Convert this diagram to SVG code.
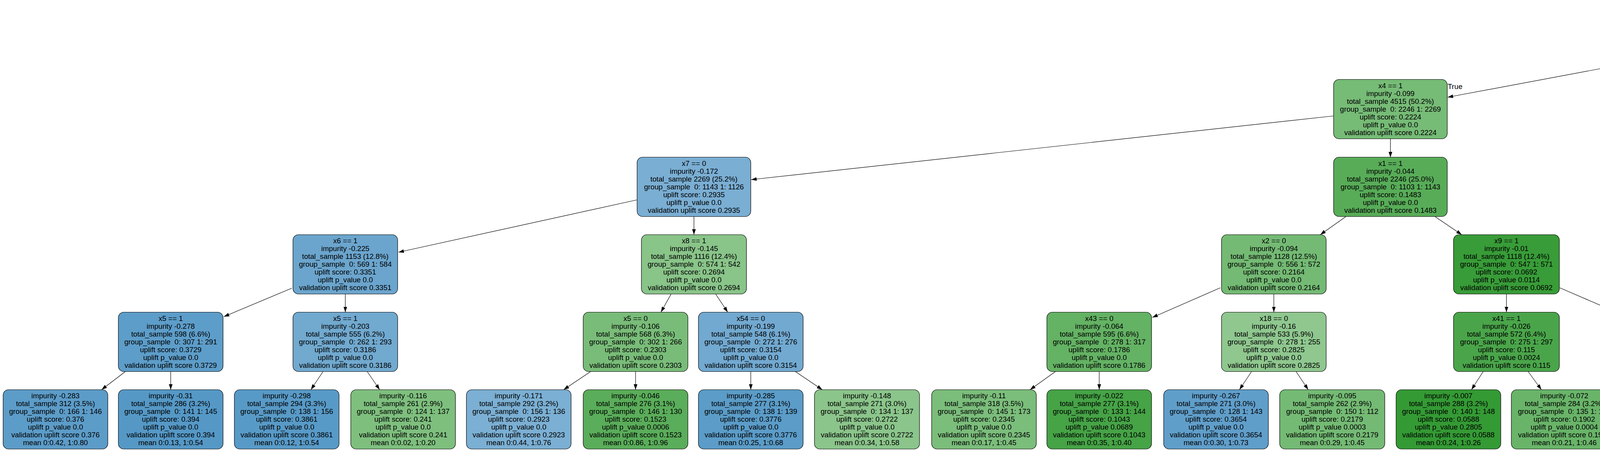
<svg xmlns="http://www.w3.org/2000/svg" width="7125" height="1155" viewBox="0 0 7125 1155">
<defs>
<style>
.node rect{stroke:#000;stroke-width:1.2}
text{font-family:"Liberation Sans",Arial,Helvetica,sans-serif;font-size:18.67px;fill:#000;text-anchor:middle}
.edge{stroke:#000;stroke-width:1.2;fill:none;marker-end:url(#arr)}
</style>
<marker id="arr" markerUnits="userSpaceOnUse" markerWidth="14" markerHeight="10" refX="14" refY="5" orient="auto" viewBox="0 0 14 10"><path d="M0,0.3 L14,5 L0,9.7 z" fill="#000"/></marker>
</defs>
<rect width="7125" height="1155" fill="#fff"/>
<g id="edges">
<line class="edge" x1="4454" y1="109" x2="3706" y2="249"/>
<line class="edge" x1="4749" y1="131" x2="5053" y2="230"/>
<line class="edge" x1="3413" y1="297" x2="1923" y2="460"/>
<line class="edge" x1="3559.5" y1="356" x2="3559.5" y2="403"/>
<line class="edge" x1="5199.5" y1="356" x2="5199.5" y2="403"/>
<line class="edge" x1="5345" y1="308" x2="6094" y2="449"/>
<line class="edge" x1="1630" y1="512" x2="1020" y2="646"/>
<line class="edge" x1="1776.5" y1="555" x2="1776.5" y2="601"/>
<line class="edge" x1="3445" y1="555" x2="3380" y2="601"/>
<line class="edge" x1="3674" y1="555" x2="3742" y2="601"/>
<line class="edge" x1="5143" y1="555" x2="5112" y2="601"/>
<line class="edge" x1="5258" y1="555" x2="5291" y2="601"/>
<line class="edge" x1="6240.5" y1="555" x2="6240.5" y2="601"/>
<line class="edge" x1="6389" y1="543" x2="6551" y2="615"/>
<line class="edge" x1="747" y1="738" x2="573" y2="811"/>
<line class="edge" x1="884" y1="753" x2="884" y2="799.5"/>
<line class="edge" x1="1718" y1="753" x2="1692" y2="799.5"/>
<line class="edge" x1="1832" y1="753" x2="1863" y2="799.5"/>
<line class="edge" x1="3124" y1="737" x2="2950" y2="813"/>
<line class="edge" x1="3261" y1="753" x2="3261" y2="799.5"/>
<line class="edge" x1="3856.5" y1="753" x2="3856.5" y2="799.5"/>
<line class="edge" x1="3993" y1="737" x2="4169" y2="813"/>
<line class="edge" x1="5289" y1="753" x2="5261" y2="799.5"/>
<line class="edge" x1="5406" y1="753" x2="5437" y2="799.5"/>
<line class="edge" x1="6182" y1="753" x2="6153" y2="799.5"/>
<line class="edge" x1="6296" y1="753" x2="6330" y2="799.5"/>
<line class="edge" x1="6685" y1="753" x2="6685" y2="799.5"/>
<line class="edge" x1="6799" y1="753" x2="6865" y2="799.5"/>
<line class="edge" x1="321" y1="951.5" x2="260" y2="998"/>
<line class="edge" x1="437" y1="951.5" x2="437" y2="998"/>
<line class="edge" x1="827" y1="951.5" x2="796" y2="998"/>
<line class="edge" x1="940" y1="951.5" x2="972" y2="998"/>
<line class="edge" x1="1512" y1="951.5" x2="1443" y2="998"/>
<line class="edge" x1="1627" y1="951.5" x2="1627" y2="998"/>
<line class="edge" x1="1922" y1="951.5" x2="1922" y2="998"/>
<line class="edge" x1="2036" y1="951.5" x2="2105" y2="998"/>
<line class="edge" x1="2702" y1="951.5" x2="2637" y2="998"/>
<line class="edge" x1="2814" y1="951.5" x2="2814" y2="998"/>
<line class="edge" x1="3204" y1="951.5" x2="3173" y2="998"/>
<line class="edge" x1="3318" y1="951.5" x2="3349" y2="998"/>
<line class="edge" x1="3797" y1="951.5" x2="3767" y2="998"/>
<line class="edge" x1="3912" y1="951.5" x2="3946" y2="998"/>
<line class="edge" x1="4305" y1="951.5" x2="4305" y2="998"/>
<line class="edge" x1="4420" y1="951.5" x2="4489" y2="998"/>
<line class="edge" x1="5088" y1="951.5" x2="5019" y2="998"/>
<line class="edge" x1="5199.5" y1="951.5" x2="5199.5" y2="998"/>
<line class="edge" x1="5497" y1="951.5" x2="5497" y2="998"/>
<line class="edge" x1="5613" y1="951.5" x2="5677" y2="998"/>
<line class="edge" x1="6091" y1="951.5" x2="6091" y2="998"/>
<line class="edge" x1="6205" y1="951.5" x2="6271" y2="998"/>
<line class="edge" x1="6685" y1="951.5" x2="6685" y2="998"/>
<line class="edge" x1="6799" y1="951.5" x2="6868" y2="998"/>
<text x="3725" y="228">True</text>
<text x="5036" y="205">False</text>
</g>
<g id="n0" class="node"><rect x="4453" y="4.5" width="296" height="152" rx="14" fill="#7cafd3"/><text x="4601" y="26.5"><tspan x="4601">x3 == 0</tspan><tspan x="4601" dy="20">impurity -0.167</tspan><tspan x="4601" dy="20">total_sample 9000 (100.0%)</tspan><tspan x="4601" dy="20">group_sample&#160; 0: 4510 1: 4490</tspan><tspan x="4601" dy="20">uplift score: 0.2892</tspan><tspan x="4601" dy="20">uplift p_value 0.0</tspan><tspan x="4601" dy="20">validation uplift score 0.2892</tspan></text></g>
<g id="n1" class="node"><rect x="3414" y="203.5" width="291" height="152" rx="14" fill="#76bb76"/><text x="3559.5" y="225.5"><tspan x="3559.5">x4 == 1</tspan><tspan x="3559.5" dy="20">impurity -0.099</tspan><tspan x="3559.5" dy="20">total_sample 4515 (50.2%)</tspan><tspan x="3559.5" dy="20">group_sample&#160; 0: 2246 1: 2269</tspan><tspan x="3559.5" dy="20">uplift score: 0.2224</tspan><tspan x="3559.5" dy="20">uplift p_value 0.0</tspan><tspan x="3559.5" dy="20">validation uplift score 0.2224</tspan></text></g>
<g id="n2" class="node"><rect x="5054" y="203.5" width="291" height="152" rx="14" fill="#62a0cb"/><text x="5199.5" y="225.5"><tspan x="5199.5">x5 == 0</tspan><tspan x="5199.5" dy="20">impurity -0.256</tspan><tspan x="5199.5" dy="20">total_sample 4485 (49.8%)</tspan><tspan x="5199.5" dy="20">group_sample&#160; 0: 2264 1: 2221</tspan><tspan x="5199.5" dy="20">uplift score: 0.358</tspan><tspan x="5199.5" dy="20">uplift p_value 0.0</tspan><tspan x="5199.5" dy="20">validation uplift score 0.358</tspan></text></g>
<g id="n3" class="node"><rect x="1631" y="402.5" width="291" height="152" rx="14" fill="#7aaed3"/><text x="1776.5" y="424.5"><tspan x="1776.5">x7 == 0</tspan><tspan x="1776.5" dy="20">impurity -0.172</tspan><tspan x="1776.5" dy="20">total_sample 2269 (25.2%)</tspan><tspan x="1776.5" dy="20">group_sample&#160; 0: 1143 1: 1126</tspan><tspan x="1776.5" dy="20">uplift score: 0.2935</tspan><tspan x="1776.5" dy="20">uplift p_value 0.0</tspan><tspan x="1776.5" dy="20">validation uplift score 0.2935</tspan></text></g>
<g id="n4" class="node"><rect x="3414" y="402.5" width="291" height="152" rx="14" fill="#58ac58"/><text x="3559.5" y="424.5"><tspan x="3559.5">x1 == 1</tspan><tspan x="3559.5" dy="20">impurity -0.044</tspan><tspan x="3559.5" dy="20">total_sample 2246 (25.0%)</tspan><tspan x="3559.5" dy="20">group_sample&#160; 0: 1103 1: 1143</tspan><tspan x="3559.5" dy="20">uplift score: 0.1483</tspan><tspan x="3559.5" dy="20">uplift p_value 0.0</tspan><tspan x="3559.5" dy="20">validation uplift score 0.1483</tspan></text></g>
<g id="n5" class="node"><rect x="5054" y="402.5" width="291" height="152" rx="14" fill="#5095c4"/><text x="5199.5" y="424.5"><tspan x="5199.5">x2 == 0</tspan><tspan x="5199.5" dy="20">impurity -0.332</tspan><tspan x="5199.5" dy="20">total_sample 2282 (25.4%)</tspan><tspan x="5199.5" dy="20">group_sample&#160; 0: 1131 1: 1151</tspan><tspan x="5199.5" dy="20">uplift score: 0.4076</tspan><tspan x="5199.5" dy="20">uplift p_value 0.0</tspan><tspan x="5199.5" dy="20">validation uplift score 0.4076</tspan></text></g>
<g id="n6" class="node"><rect x="6095" y="402.5" width="291" height="152" rx="14" fill="#70a8cf"/><text x="6240.5" y="424.5"><tspan x="6240.5">x7 == 0</tspan><tspan x="6240.5" dy="20">impurity -0.207</tspan><tspan x="6240.5" dy="20">total_sample 2203 (24.5%)</tspan><tspan x="6240.5" dy="20">group_sample&#160; 0: 1133 1: 1070</tspan><tspan x="6240.5" dy="20">uplift score: 0.3219</tspan><tspan x="6240.5" dy="20">uplift p_value 0.0</tspan><tspan x="6240.5" dy="20">validation uplift score 0.3219</tspan></text></g>
<g id="n7" class="node"><rect x="750" y="601" width="268" height="152" rx="14" fill="#6ba5cd"/><text x="884" y="623"><tspan x="884">x6 == 1</tspan><tspan x="884" dy="20">impurity -0.225</tspan><tspan x="884" dy="20">total_sample 1153 (12.8%)</tspan><tspan x="884" dy="20">group_sample&#160; 0: 569 1: 584</tspan><tspan x="884" dy="20">uplift score: 0.3351</tspan><tspan x="884" dy="20">uplift p_value 0.0</tspan><tspan x="884" dy="20">validation uplift score 0.3351</tspan></text></g>
<g id="n8" class="node"><rect x="1642" y="601" width="269" height="152" rx="14" fill="#89c489"/><text x="1776.5" y="623"><tspan x="1776.5">x8 == 1</tspan><tspan x="1776.5" dy="20">impurity -0.145</tspan><tspan x="1776.5" dy="20">total_sample 1116 (12.4%)</tspan><tspan x="1776.5" dy="20">group_sample&#160; 0: 574 1: 542</tspan><tspan x="1776.5" dy="20">uplift score: 0.2694</tspan><tspan x="1776.5" dy="20">uplift p_value 0.0</tspan><tspan x="1776.5" dy="20">validation uplift score 0.2694</tspan></text></g>
<g id="n9" class="node"><rect x="3127" y="601" width="268" height="152" rx="14" fill="#74ba74"/><text x="3261" y="623"><tspan x="3261">x2 == 0</tspan><tspan x="3261" dy="20">impurity -0.094</tspan><tspan x="3261" dy="20">total_sample 1128 (12.5%)</tspan><tspan x="3261" dy="20">group_sample&#160; 0: 556 1: 572</tspan><tspan x="3261" dy="20">uplift score: 0.2164</tspan><tspan x="3261" dy="20">uplift p_value 0.0</tspan><tspan x="3261" dy="20">validation uplift score 0.2164</tspan></text></g>
<g id="n10" class="node"><rect x="3721" y="601" width="271" height="152" rx="14" fill="#389c38"/><text x="3856.5" y="623"><tspan x="3856.5">x9 == 1</tspan><tspan x="3856.5" dy="20">impurity -0.01</tspan><tspan x="3856.5" dy="20">total_sample 1118 (12.4%)</tspan><tspan x="3856.5" dy="20">group_sample&#160; 0: 547 1: 571</tspan><tspan x="3856.5" dy="20">uplift score: 0.0692</tspan><tspan x="3856.5" dy="20">uplift p_value 0.0114</tspan><tspan x="3856.5" dy="20">validation uplift score 0.0692</tspan></text></g>
<g id="n11" class="node"><rect x="4916" y="601" width="268" height="152" rx="14" fill="#66a2cc"/><text x="5050" y="623"><tspan x="5050">impurity -0.242</tspan><tspan x="5050" dy="20">total_sample 1166 (13.0%)</tspan><tspan x="5050" dy="20">group_sample&#160; 0: 583 1: 583</tspan><tspan x="5050" dy="20">uplift score: 0.3481</tspan><tspan x="5050" dy="20">uplift p_value 0.0</tspan><tspan x="5050" dy="20">validation uplift score 0.3481</tspan><tspan x="5050" dy="20">mean 0:0.19, 1:0.53</tspan></text></g>
<g id="n12" class="node"><rect x="5215" y="601" width="268" height="152" rx="14" fill="#3785bc"/><text x="5349" y="623"><tspan x="5349">x4 == 0</tspan><tspan x="5349" dy="20">impurity -0.454</tspan><tspan x="5349" dy="20">total_sample 1116 (12.4%)</tspan><tspan x="5349" dy="20">group_sample&#160; 0: 548 1: 568</tspan><tspan x="5349" dy="20">uplift score: 0.4764</tspan><tspan x="5349" dy="20">uplift p_value 0.0</tspan><tspan x="5349" dy="20">validation uplift score 0.4764</tspan></text></g>
<g id="n13" class="node"><rect x="6106" y="601" width="268" height="152" rx="14" fill="#5598c6"/><text x="6240" y="623"><tspan x="6240">x1 == 1</tspan><tspan x="6240" dy="20">impurity -0.312</tspan><tspan x="6240" dy="20">total_sample 1105 (12.3%)</tspan><tspan x="6240" dy="20">group_sample&#160; 0: 552 1: 553</tspan><tspan x="6240" dy="20">uplift score: 0.3948</tspan><tspan x="6240" dy="20">uplift p_value 0.0</tspan><tspan x="6240" dy="20">validation uplift score 0.3948</tspan></text></g>
<g id="n14" class="node"><rect x="6551" y="601" width="268" height="152" rx="14" fill="#83c183"/><text x="6685" y="623"><tspan x="6685">x6 == 0</tspan><tspan x="6685" dy="20">impurity -0.129</tspan><tspan x="6685" dy="20">total_sample 1098 (12.2%)</tspan><tspan x="6685" dy="20">group_sample&#160; 0: 581 1: 517</tspan><tspan x="6685" dy="20">uplift score: 0.2543</tspan><tspan x="6685" dy="20">uplift p_value 0.0</tspan><tspan x="6685" dy="20">validation uplift score 0.2543</tspan></text></g>
<g id="n15" class="node"><rect x="303" y="799.5" width="268" height="152" rx="14" fill="#5d9dc9"/><text x="437" y="821.5"><tspan x="437">x5 == 1</tspan><tspan x="437" dy="20">impurity -0.278</tspan><tspan x="437" dy="20">total_sample 598 (6.6%)</tspan><tspan x="437" dy="20">group_sample&#160; 0: 307 1: 291</tspan><tspan x="437" dy="20">uplift score: 0.3729</tspan><tspan x="437" dy="20">uplift p_value 0.0</tspan><tspan x="437" dy="20">validation uplift score 0.3729</tspan></text></g>
<g id="n16" class="node"><rect x="750" y="799.5" width="268" height="152" rx="14" fill="#71a9cf"/><text x="884" y="821.5"><tspan x="884">x5 == 1</tspan><tspan x="884" dy="20">impurity -0.203</tspan><tspan x="884" dy="20">total_sample 555 (6.2%)</tspan><tspan x="884" dy="20">group_sample&#160; 0: 262 1: 293</tspan><tspan x="884" dy="20">uplift score: 0.3186</tspan><tspan x="884" dy="20">uplift p_value 0.0</tspan><tspan x="884" dy="20">validation uplift score 0.3186</tspan></text></g>
<g id="n17" class="node"><rect x="1493" y="799.5" width="268" height="152" rx="14" fill="#79bc79"/><text x="1627" y="821.5"><tspan x="1627">x5 == 0</tspan><tspan x="1627" dy="20">impurity -0.106</tspan><tspan x="1627" dy="20">total_sample 568 (6.3%)</tspan><tspan x="1627" dy="20">group_sample&#160; 0: 302 1: 266</tspan><tspan x="1627" dy="20">uplift score: 0.2303</tspan><tspan x="1627" dy="20">uplift p_value 0.0</tspan><tspan x="1627" dy="20">validation uplift score 0.2303</tspan></text></g>
<g id="n18" class="node"><rect x="1788" y="799.5" width="268" height="152" rx="14" fill="#72a9d0"/><text x="1922" y="821.5"><tspan x="1922">x54 == 0</tspan><tspan x="1922" dy="20">impurity -0.199</tspan><tspan x="1922" dy="20">total_sample 548 (6.1%)</tspan><tspan x="1922" dy="20">group_sample&#160; 0: 272 1: 276</tspan><tspan x="1922" dy="20">uplift score: 0.3154</tspan><tspan x="1922" dy="20">uplift p_value 0.0</tspan><tspan x="1922" dy="20">validation uplift score 0.3154</tspan></text></g>
<g id="n19" class="node"><rect x="2680" y="799.5" width="268" height="152" rx="14" fill="#64b264"/><text x="2814" y="821.5"><tspan x="2814">x43 == 0</tspan><tspan x="2814" dy="20">impurity -0.064</tspan><tspan x="2814" dy="20">total_sample 595 (6.6%)</tspan><tspan x="2814" dy="20">group_sample&#160; 0: 278 1: 317</tspan><tspan x="2814" dy="20">uplift score: 0.1786</tspan><tspan x="2814" dy="20">uplift p_value 0.0</tspan><tspan x="2814" dy="20">validation uplift score 0.1786</tspan></text></g>
<g id="n20" class="node"><rect x="3127" y="799.5" width="268" height="152" rx="14" fill="#8fc78f"/><text x="3261" y="821.5"><tspan x="3261">x18 == 0</tspan><tspan x="3261" dy="20">impurity -0.16</tspan><tspan x="3261" dy="20">total_sample 533 (5.9%)</tspan><tspan x="3261" dy="20">group_sample&#160; 0: 278 1: 255</tspan><tspan x="3261" dy="20">uplift score: 0.2825</tspan><tspan x="3261" dy="20">uplift p_value 0.0</tspan><tspan x="3261" dy="20">validation uplift score 0.2825</tspan></text></g>
<g id="n21" class="node"><rect x="3721" y="799.5" width="271" height="152" rx="14" fill="#4aa54a"/><text x="3856.5" y="821.5"><tspan x="3856.5">x41 == 1</tspan><tspan x="3856.5" dy="20">impurity -0.026</tspan><tspan x="3856.5" dy="20">total_sample 572 (6.4%)</tspan><tspan x="3856.5" dy="20">group_sample&#160; 0: 275 1: 297</tspan><tspan x="3856.5" dy="20">uplift score: 0.115</tspan><tspan x="3856.5" dy="20">uplift p_value 0.0024</tspan><tspan x="3856.5" dy="20">validation uplift score 0.115</tspan></text></g>
<g id="n22" class="node"><rect x="4171" y="799.5" width="268" height="152" rx="14" fill="#1c8e1c"/><text x="4305" y="821.5"><tspan x="4305">x49 == 1</tspan><tspan x="4305" dy="20">impurity -0.0</tspan><tspan x="4305" dy="20">total_sample 546 (6.1%)</tspan><tspan x="4305" dy="20">group_sample&#160; 0: 272 1: 274</tspan><tspan x="4305" dy="20">uplift score: 0.0009</tspan><tspan x="4305" dy="20">uplift p_value 0.9816</tspan><tspan x="4305" dy="20">validation uplift score 0.0009</tspan></text></g>
<g id="n23" class="node"><rect x="5065" y="799.5" width="269" height="152" rx="14" fill="#3d89be"/><text x="5199.5" y="821.5"><tspan x="5199.5">x50 == 0</tspan><tspan x="5199.5" dy="20">impurity -0.42</tspan><tspan x="5199.5" dy="20">total_sample 573 (6.4%)</tspan><tspan x="5199.5" dy="20">group_sample&#160; 0: 272 1: 301</tspan><tspan x="5199.5" dy="20">uplift score: 0.4585</tspan><tspan x="5199.5" dy="20">uplift p_value 0.0</tspan><tspan x="5199.5" dy="20">validation uplift score 0.4585</tspan></text></g>
<g id="n24" class="node"><rect x="5363" y="799.5" width="268" height="152" rx="14" fill="#277cb7"/><text x="5497" y="821.5"><tspan x="5497">x8 == 0</tspan><tspan x="5497" dy="20">impurity -0.539</tspan><tspan x="5497" dy="20">total_sample 543 (6.0%)</tspan><tspan x="5497" dy="20">group_sample&#160; 0: 276 1: 267</tspan><tspan x="5497" dy="20">uplift score: 0.5193</tspan><tspan x="5497" dy="20">uplift p_value 0.0</tspan><tspan x="5497" dy="20">validation uplift score 0.5193</tspan></text></g>
<g id="n25" class="node"><rect x="5957" y="799.5" width="268" height="152" rx="14" fill="#468fc1"/><text x="6091" y="821.5"><tspan x="6091">x8 == 1</tspan><tspan x="6091" dy="20">impurity -0.376</tspan><tspan x="6091" dy="20">total_sample 567 (6.3%)</tspan><tspan x="6091" dy="20">group_sample&#160; 0: 295 1: 272</tspan><tspan x="6091" dy="20">uplift score: 0.4336</tspan><tspan x="6091" dy="20">uplift p_value 0.0</tspan><tspan x="6091" dy="20">validation uplift score 0.4336</tspan></text></g>
<g id="n26" class="node"><rect x="6253" y="799.5" width="268" height="152" rx="14" fill="#5b9bc8"/><text x="6387" y="821.5"><tspan x="6387">impurity -0.288</tspan><tspan x="6387" dy="20">total_sample 538 (6.0%)</tspan><tspan x="6387" dy="20">group_sample&#160; 0: 257 1: 281</tspan><tspan x="6387" dy="20">uplift score: 0.3793</tspan><tspan x="6387" dy="20">uplift p_value 0.0</tspan><tspan x="6387" dy="20">validation uplift score 0.3793</tspan><tspan x="6387" dy="20">mean 0:0.32, 1:0.69</tspan></text></g>
<g id="n27" class="node"><rect x="6551" y="799.5" width="268" height="152" rx="14" fill="#73aad0"/><text x="6685" y="821.5"><tspan x="6685">x8 == 0</tspan><tspan x="6685" dy="20">impurity -0.196</tspan><tspan x="6685" dy="20">total_sample 551 (6.1%)</tspan><tspan x="6685" dy="20">group_sample&#160; 0: 286 1: 265</tspan><tspan x="6685" dy="20">uplift score: 0.313</tspan><tspan x="6685" dy="20">uplift p_value 0.0</tspan><tspan x="6685" dy="20">validation uplift score 0.313</tspan></text></g>
<g id="n28" class="node"><rect x="6848" y="799.5" width="269" height="152" rx="14" fill="#67b367"/><text x="6982.5" y="821.5"><tspan x="6982.5">impurity -0.068</tspan><tspan x="6982.5" dy="20">total_sample 547 (6.1%)</tspan><tspan x="6982.5" dy="20">group_sample&#160; 0: 295 1: 252</tspan><tspan x="6982.5" dy="20">uplift score: 0.184</tspan><tspan x="6982.5" dy="20">uplift p_value 0.0</tspan><tspan x="6982.5" dy="20">validation uplift score 0.184</tspan><tspan x="6982.5" dy="20">mean 0:0.82, 1:0.98</tspan></text></g>
<g id="l1" class="node"><rect x="8" y="998" width="268" height="152" rx="14" fill="#5c9cc8"/><text x="142" y="1020"><tspan x="142">impurity -0.283</tspan><tspan x="142" dy="20">total_sample 312 (3.5%)</tspan><tspan x="142" dy="20">group_sample&#160; 0: 166 1: 146</tspan><tspan x="142" dy="20">uplift score: 0.376</tspan><tspan x="142" dy="20">uplift p_value 0.0</tspan><tspan x="142" dy="20">validation uplift score 0.376</tspan><tspan x="142" dy="20">mean 0:0.42, 1:0.80</tspan></text></g>
<g id="l2" class="node"><rect x="303" y="998" width="268" height="152" rx="14" fill="#5598c6"/><text x="437" y="1020"><tspan x="437">impurity -0.31</tspan><tspan x="437" dy="20">total_sample 286 (3.2%)</tspan><tspan x="437" dy="20">group_sample&#160; 0: 141 1: 145</tspan><tspan x="437" dy="20">uplift score: 0.394</tspan><tspan x="437" dy="20">uplift p_value 0.0</tspan><tspan x="437" dy="20">validation uplift score 0.394</tspan><tspan x="437" dy="20">mean 0:0.13, 1:0.54</tspan></text></g>
<g id="l3" class="node"><rect x="600" y="998" width="268" height="152" rx="14" fill="#589ac7"/><text x="734" y="1020"><tspan x="734">impurity -0.298</tspan><tspan x="734" dy="20">total_sample 294 (3.3%)</tspan><tspan x="734" dy="20">group_sample&#160; 0: 138 1: 156</tspan><tspan x="734" dy="20">uplift score: 0.3861</tspan><tspan x="734" dy="20">uplift p_value 0.0</tspan><tspan x="734" dy="20">validation uplift score 0.3861</tspan><tspan x="734" dy="20">mean 0:0.12, 1:0.54</tspan></text></g>
<g id="l4" class="node"><rect x="898" y="998" width="268" height="152" rx="14" fill="#7ebf7e"/><text x="1032" y="1020"><tspan x="1032">impurity -0.116</tspan><tspan x="1032" dy="20">total_sample 261 (2.9%)</tspan><tspan x="1032" dy="20">group_sample&#160; 0: 124 1: 137</tspan><tspan x="1032" dy="20">uplift score: 0.241</tspan><tspan x="1032" dy="20">uplift p_value 0.0</tspan><tspan x="1032" dy="20">validation uplift score 0.241</tspan><tspan x="1032" dy="20">mean 0:0.02, 1:0.20</tspan></text></g>
<g id="l5" class="node"><rect x="1194" y="998" width="268" height="152" rx="14" fill="#7bafd3"/><text x="1328" y="1020"><tspan x="1328">impurity -0.171</tspan><tspan x="1328" dy="20">total_sample 292 (3.2%)</tspan><tspan x="1328" dy="20">group_sample&#160; 0: 156 1: 136</tspan><tspan x="1328" dy="20">uplift score: 0.2923</tspan><tspan x="1328" dy="20">uplift p_value 0.0</tspan><tspan x="1328" dy="20">validation uplift score 0.2923</tspan><tspan x="1328" dy="20">mean 0:0.44, 1:0.76</tspan></text></g>
<g id="l6" class="node"><rect x="1493" y="998" width="268" height="152" rx="14" fill="#5aad5a"/><text x="1627" y="1020"><tspan x="1627">impurity -0.046</tspan><tspan x="1627" dy="20">total_sample 276 (3.1%)</tspan><tspan x="1627" dy="20">group_sample&#160; 0: 146 1: 130</tspan><tspan x="1627" dy="20">uplift score: 0.1523</tspan><tspan x="1627" dy="20">uplift p_value 0.0006</tspan><tspan x="1627" dy="20">validation uplift score 0.1523</tspan><tspan x="1627" dy="20">mean 0:0.86, 1:0.96</tspan></text></g>
<g id="l7" class="node"><rect x="1788" y="998" width="268" height="152" rx="14" fill="#5b9cc8"/><text x="1922" y="1020"><tspan x="1922">impurity -0.285</tspan><tspan x="1922" dy="20">total_sample 277 (3.1%)</tspan><tspan x="1922" dy="20">group_sample&#160; 0: 138 1: 139</tspan><tspan x="1922" dy="20">uplift score: 0.3776</tspan><tspan x="1922" dy="20">uplift p_value 0.0</tspan><tspan x="1922" dy="20">validation uplift score 0.3776</tspan><tspan x="1922" dy="20">mean 0:0.25, 1:0.68</tspan></text></g>
<g id="l8" class="node"><rect x="2085" y="998" width="269" height="152" rx="14" fill="#8bc58b"/><text x="2219.5" y="1020"><tspan x="2219.5">impurity -0.148</tspan><tspan x="2219.5" dy="20">total_sample 271 (3.0%)</tspan><tspan x="2219.5" dy="20">group_sample&#160; 0: 134 1: 137</tspan><tspan x="2219.5" dy="20">uplift score: 0.2722</tspan><tspan x="2219.5" dy="20">uplift p_value 0.0</tspan><tspan x="2219.5" dy="20">validation uplift score 0.2722</tspan><tspan x="2219.5" dy="20">mean 0:0.34, 1:0.58</tspan></text></g>
<g id="l9" class="node"><rect x="2385" y="998" width="268" height="152" rx="14" fill="#7bbd7b"/><text x="2519" y="1020"><tspan x="2519">impurity -0.11</tspan><tspan x="2519" dy="20">total_sample 318 (3.5%)</tspan><tspan x="2519" dy="20">group_sample&#160; 0: 145 1: 173</tspan><tspan x="2519" dy="20">uplift score: 0.2345</tspan><tspan x="2519" dy="20">uplift p_value 0.0</tspan><tspan x="2519" dy="20">validation uplift score 0.2345</tspan><tspan x="2519" dy="20">mean 0:0.17, 1:0.45</tspan></text></g>
<g id="l10" class="node"><rect x="2680" y="998" width="268" height="152" rx="14" fill="#46a346"/><text x="2814" y="1020"><tspan x="2814">impurity -0.022</tspan><tspan x="2814" dy="20">total_sample 277 (3.1%)</tspan><tspan x="2814" dy="20">group_sample&#160; 0: 133 1: 144</tspan><tspan x="2814" dy="20">uplift score: 0.1043</tspan><tspan x="2814" dy="20">uplift p_value 0.0689</tspan><tspan x="2814" dy="20">validation uplift score 0.1043</tspan><tspan x="2814" dy="20">mean 0:0.35, 1:0.40</tspan></text></g>
<g id="l11" class="node"><rect x="2979" y="998" width="268" height="152" rx="14" fill="#609eca"/><text x="3113" y="1020"><tspan x="3113">impurity -0.267</tspan><tspan x="3113" dy="20">total_sample 271 (3.0%)</tspan><tspan x="3113" dy="20">group_sample&#160; 0: 128 1: 143</tspan><tspan x="3113" dy="20">uplift score: 0.3654</tspan><tspan x="3113" dy="20">uplift p_value 0.0</tspan><tspan x="3113" dy="20">validation uplift score 0.3654</tspan><tspan x="3113" dy="20">mean 0:0.30, 1:0.73</tspan></text></g>
<g id="l12" class="node"><rect x="3276" y="998" width="269" height="152" rx="14" fill="#74ba74"/><text x="3410.5" y="1020"><tspan x="3410.5">impurity -0.095</tspan><tspan x="3410.5" dy="20">total_sample 262 (2.9%)</tspan><tspan x="3410.5" dy="20">group_sample&#160; 0: 150 1: 112</tspan><tspan x="3410.5" dy="20">uplift score: 0.2179</tspan><tspan x="3410.5" dy="20">uplift p_value 0.0003</tspan><tspan x="3410.5" dy="20">validation uplift score 0.2179</tspan><tspan x="3410.5" dy="20">mean 0:0.29, 1:0.45</tspan></text></g>
<g id="l13" class="node"><rect x="3574" y="998" width="268" height="152" rx="14" fill="#349a34"/><text x="3708" y="1020"><tspan x="3708">impurity -0.007</tspan><tspan x="3708" dy="20">total_sample 288 (3.2%)</tspan><tspan x="3708" dy="20">group_sample&#160; 0: 140 1: 148</tspan><tspan x="3708" dy="20">uplift score: 0.0588</tspan><tspan x="3708" dy="20">uplift p_value 0.2805</tspan><tspan x="3708" dy="20">validation uplift score 0.0588</tspan><tspan x="3708" dy="20">mean 0:0.24, 1:0.26</tspan></text></g>
<g id="l14" class="node"><rect x="3869" y="998" width="271" height="152" rx="14" fill="#69b469"/><text x="4004.5" y="1020"><tspan x="4004.5">impurity -0.072</tspan><tspan x="4004.5" dy="20">total_sample 284 (3.2%)</tspan><tspan x="4004.5" dy="20">group_sample&#160; 0: 135 1: 149</tspan><tspan x="4004.5" dy="20">uplift score: 0.1902</tspan><tspan x="4004.5" dy="20">uplift p_value 0.0004</tspan><tspan x="4004.5" dy="20">validation uplift score 0.1902</tspan><tspan x="4004.5" dy="20">mean 0:0.21, 1:0.46</tspan></text></g>
<g id="l15" class="node"><rect x="4169" y="998" width="271" height="152" rx="14" fill="#008000"/><text x="4304.5" y="1020"><tspan x="4304.5">impurity -0.009</tspan><tspan x="4304.5" dy="20">total_sample 274 (3.0%)</tspan><tspan x="4304.5" dy="20">group_sample&#160; 0: 132 1: 142</tspan><tspan x="4304.5" dy="20">uplift score: -0.0669</tspan><tspan x="4304.5" dy="20">uplift p_value 0.2242</tspan><tspan x="4304.5" dy="20">validation uplift score -0.0669</tspan><tspan x="4304.5" dy="20">mean 0:0.38, 1:0.24</tspan></text></g>
<g id="l16" class="node"><rect x="4469" y="998" width="270" height="152" rx="14" fill="#2c962c"/><text x="4604" y="1020"><tspan x="4604">impurity -0.003</tspan><tspan x="4604" dy="20">total_sample 272 (3.0%)</tspan><tspan x="4604" dy="20">group_sample&#160; 0: 140 1: 132</tspan><tspan x="4604" dy="20">uplift score: 0.0398</tspan><tspan x="4604" dy="20">uplift p_value 0.4685</tspan><tspan x="4604" dy="20">validation uplift score 0.0398</tspan><tspan x="4604" dy="20">mean 0:0.25, 1:0.32</tspan></text></g>
<g id="l17" class="node"><rect x="4768" y="998" width="271" height="152" rx="14" fill="#2b7eb8"/><text x="4903.5" y="1020"><tspan x="4903.5">impurity -0.518</tspan><tspan x="4903.5" dy="20">total_sample 297 (3.3%)</tspan><tspan x="4903.5" dy="20">group_sample&#160; 0: 137 1: 160</tspan><tspan x="4903.5" dy="20">uplift score: 0.5089</tspan><tspan x="4903.5" dy="20">uplift p_value 0.0</tspan><tspan x="4903.5" dy="20">validation uplift score 0.5089</tspan><tspan x="4903.5" dy="20">mean 0:0.09, 1:0.64</tspan></text></g>
<g id="l18" class="node"><rect x="5065" y="998" width="269" height="152" rx="14" fill="#5397c6"/><text x="5199.5" y="1020"><tspan x="5199.5">impurity -0.318</tspan><tspan x="5199.5" dy="20">total_sample 276 (3.1%)</tspan><tspan x="5199.5" dy="20">group_sample&#160; 0: 135 1: 141</tspan><tspan x="5199.5" dy="20">uplift score: 0.3986</tspan><tspan x="5199.5" dy="20">uplift p_value 0.0</tspan><tspan x="5199.5" dy="20">validation uplift score 0.3986</tspan><tspan x="5199.5" dy="20">mean 0:0.13, 1:0.49</tspan></text></g>
<g id="l19" class="node"><rect x="5363" y="998" width="268" height="152" rx="14" fill="#257ab6"/><text x="5497" y="1020"><tspan x="5497">impurity -0.551</tspan><tspan x="5497" dy="20">total_sample 278 (3.1%)</tspan><tspan x="5497" dy="20">group_sample&#160; 0: 136 1: 142</tspan><tspan x="5497" dy="20">uplift score: 0.5251</tspan><tspan x="5497" dy="20">uplift p_value 0.0</tspan><tspan x="5497" dy="20">validation uplift score 0.5251</tspan><tspan x="5497" dy="20">mean 0:0.09, 1:0.62</tspan></text></g>
<g id="l20" class="node"><rect x="5659" y="998" width="271" height="152" rx="14" fill="#1f77b4"/><text x="5794.5" y="1020"><tspan x="5794.5">impurity -0.584</tspan><tspan x="5794.5" dy="20">total_sample 265 (2.9%)</tspan><tspan x="5794.5" dy="20">group_sample&#160; 0: 140 1: 125</tspan><tspan x="5794.5" dy="20">uplift score: 0.5402</tspan><tspan x="5794.5" dy="20">uplift p_value 0.0</tspan><tspan x="5794.5" dy="20">validation uplift score 0.5402</tspan><tspan x="5794.5" dy="20">mean 0:0.37, 1:0.94</tspan></text></g>
<g id="l21" class="node"><rect x="5957" y="998" width="268" height="152" rx="14" fill="#609eca"/><text x="6091" y="1020"><tspan x="6091">impurity -0.266</tspan><tspan x="6091" dy="20">total_sample 291 (3.2%)</tspan><tspan x="6091" dy="20">group_sample&#160; 0: 150 1: 141</tspan><tspan x="6091" dy="20">uplift score: 0.3649</tspan><tspan x="6091" dy="20">uplift p_value 0.0</tspan><tspan x="6091" dy="20">validation uplift score 0.3649</tspan><tspan x="6091" dy="20">mean 0:0.59, 1:0.91</tspan></text></g>
<g id="l22" class="node"><rect x="6253" y="998" width="268" height="152" rx="14" fill="#277cb7"/><text x="6387" y="1020"><tspan x="6387">impurity -0.54</tspan><tspan x="6387" dy="20">total_sample 276 (3.1%)</tspan><tspan x="6387" dy="20">group_sample&#160; 0: 145 1: 131</tspan><tspan x="6387" dy="20">uplift score: 0.5194</tspan><tspan x="6387" dy="20">uplift p_value 0.0</tspan><tspan x="6387" dy="20">validation uplift score 0.5194</tspan><tspan x="6387" dy="20">mean 0:0.17, 1:0.75</tspan></text></g>
<g id="l23" class="node"><rect x="6551" y="998" width="268" height="152" rx="14" fill="#5c9cc8"/><text x="6685" y="1020"><tspan x="6685">impurity -0.281</tspan><tspan x="6685" dy="20">total_sample 294 (3.3%)</tspan><tspan x="6685" dy="20">group_sample&#160; 0: 137 1: 157</tspan><tspan x="6685" dy="20">uplift score: 0.3752</tspan><tspan x="6685" dy="20">uplift p_value 0.0</tspan><tspan x="6685" dy="20">validation uplift score 0.3752</tspan><tspan x="6685" dy="20">mean 0:0.36, 1:0.78</tspan></text></g>
<g id="l24" class="node"><rect x="6848" y="998" width="269" height="152" rx="14" fill="#7bafd3"/><text x="6982.5" y="1020"><tspan x="6982.5">impurity -0.169</tspan><tspan x="6982.5" dy="20">total_sample 257 (2.9%)</tspan><tspan x="6982.5" dy="20">group_sample&#160; 0: 149 1: 108</tspan><tspan x="6982.5" dy="20">uplift score: 0.291</tspan><tspan x="6982.5" dy="20">uplift p_value 0.0</tspan><tspan x="6982.5" dy="20">validation uplift score 0.291</tspan><tspan x="6982.5" dy="20">mean 0:0.69, 1:0.98</tspan></text></g>
</svg>
